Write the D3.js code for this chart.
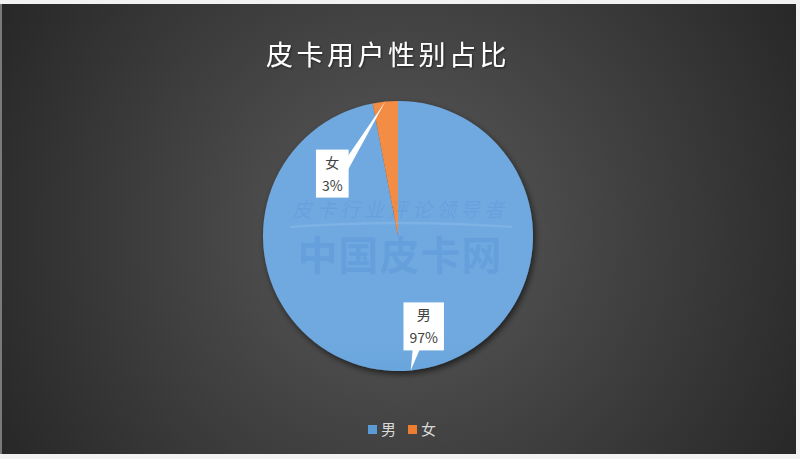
<!DOCTYPE html>
<html>
<head>
<meta charset="utf-8">
<script src="https://cdn.jsdelivr.net/npm/d3@7"></script>
<style>
  html, body { margin: 0; padding: 0; background: #f2f2f2; }
  svg { display: block; }
  text { font-family: "Noto Sans CJK SC", "Noto Sans", sans-serif; }
</style>
</head>
<body>
<svg id="chart" width="800" height="459"></svg>
<script>
// chart data
const title = '皮卡用户性别占比';
const categories = ['男', '女'];
const values = [97, 3];
const valueLabels = ['97%', '3%'];
const colors = ['#5B9BD5', '#ED7D31'];
const darkColors = ['#4785c6', '#d96a1f'];
const lightColors = ['#6fa9df', '#f38c45'];

// watermark text
const markTop = '皮卡行业评论领导者';
const markMain = '中国皮卡网';

const W = 800, H = 459;
const cx = 398, cy = 236, r = 135;

const svg = d3.select('#chart');
const defs = svg.append('defs');

// background gradient
const bg = defs.append('radialGradient')
    .attr('id', 'bg')
    .attr('gradientUnits', 'userSpaceOnUse')
    .attr('cx', 400).attr('cy', 230).attr('r', 470);
bg.append('stop').attr('offset', '0%').attr('stop-color', '#5a5a5a');
bg.append('stop').attr('offset', '100%').attr('stop-color', '#262626');

// slice gradients
colors.forEach((c, i) => {
    const g = defs.append('linearGradient')
        .attr('id', 'slice' + i)
        .attr('gradientUnits', 'userSpaceOnUse')
        .attr('x1', 0).attr('y1', cy - r)
        .attr('x2', 0).attr('y2', cy + r);
    g.append('stop').attr('offset', '0%').attr('stop-color', lightColors[i]);
    g.append('stop').attr('offset', '50%').attr('stop-color', c);
    g.append('stop').attr('offset', '100%').attr('stop-color', darkColors[i]);
});

const shadow = defs.append('filter')
    .attr('id', 'shadow')
    .attr('x', '-20%').attr('y', '-20%')
    .attr('width', '140%').attr('height', '140%');
shadow.append('feDropShadow')
    .attr('dx', 2).attr('dy', 3)
    .attr('stdDeviation', 3)
    .attr('flood-color', '#000')
    .attr('flood-opacity', 0.6);

const titleShadow = defs.append('filter').attr('id', 'tshadow');
titleShadow.append('feDropShadow')
    .attr('dx', 1).attr('dy', 1)
    .attr('stdDeviation', 1)
    .attr('flood-color', '#000')
    .attr('flood-opacity', 0.5);

// frame
svg.append('rect').attr('width', W).attr('height', H).attr('fill', '#f2f2f2');
svg.append('rect').attr('x', 0).attr('y', 4).attr('width', 2).attr('height', 450).attr('fill', '#7a7a7a');
svg.append('rect')
    .attr('x', 2).attr('y', 4)
    .attr('width', 794).attr('height', 450)
    .attr('fill', 'url(#bg)');

// title
svg.append('text')
    .attr('x', 388)
    .attr('y', 65)
    .attr('text-anchor', 'middle')
    .attr('fill', '#ffffff')
    .attr('filter', 'url(#tshadow)')
    .style('font-size', '27px')
    .style('letter-spacing', '3.5px')
    .text(title);

// pie
const data = categories.map((c, i) => ({ name: c, value: values[i], label: valueLabels[i], i: i }));

const pie = d3.pie()
    .sort(null)
    .value(d => d.value);

const arc = d3.arc()
    .innerRadius(0)
    .outerRadius(r);

const arcs = pie(data);

const pieG = svg.append('g')
    .attr('transform', `translate(${cx},${cy})`);

pieG.append('g')
    .attr('filter', 'url(#shadow)')
    .selectAll('path')
    .data(arcs)
    .enter()
    .append('path')
    .attr('d', arc)
    .attr('fill', d => `url(#slice${d.data.i})`);

// watermark
const wm = svg.append('g').attr('fill', '#2f78d8');
wm.append('text')
    .attr('x', 400).attr('y', 217)
    .attr('text-anchor', 'middle')
    .attr('opacity', 0.14)
    .style('font-size', '20px')
    .style('font-style', 'italic')
    .style('letter-spacing', '4px')
    .text(markTop);
wm.append('path')
    .attr('d', 'M290,227 Q400,219 512,227')
    .attr('fill', 'none')
    .attr('stroke', '#9cc8f2')
    .attr('stroke-width', 2.5)
    .attr('opacity', 0.3);
wm.append('text')
    .attr('x', 400).attr('y', 270)
    .attr('text-anchor', 'middle')
    .attr('opacity', 0.16)
    .style('font-size', '40px')
    .style('font-weight', 'bold')
    .style('letter-spacing', '1px')
    .text(markMain);

// data callouts
const calloutLayout = [
    { dx: 13, dy: -44, side: 'bottom', b0: -11, b1: -4 },
    { dx: -53, dy: 72, side: 'right', b0: -17, b1: -3 }
];

arcs.forEach((d, k) => {
    const lay = calloutLayout[k];
    const mid = (d.startAngle + d.endAngle) / 2;
    const tipX = cx + r * Math.sin(mid);
    const tipY = cy - r * Math.cos(mid);
    const bx = tipX + lay.dx, by = tipY + lay.dy;

    const g = svg.append('g');
    const t1 = g.append('text')
        .attr('x', bx).attr('y', by - 6)
        .attr('text-anchor', 'middle')
        .attr('fill', '#404040')
        .style('font-size', '14px')
        .text(d.data.name);
    const t2 = g.append('text')
        .attr('x', bx).attr('y', by + 17)
        .attr('text-anchor', 'middle')
        .attr('fill', '#404040')
        .style('font-size', '14px')
        .text(d.data.label);

    const tw = Math.max(t1.node().getComputedTextLength(), t2.node().getComputedTextLength());
    const bw = tw + 12, bh = 48;
    const x0 = bx - bw / 2, y0 = by - bh / 2;

    let pts;
    if (lay.side === 'bottom') {
        pts = [[bx + lay.b0, y0 + bh - 1], [tipX, tipY], [bx + lay.b1, y0 + bh - 1]];
    } else {
        pts = [[x0 + bw - 1, by + lay.b0], [tipX, tipY], [x0 + bw - 1, by + lay.b1]];
    }

    g.insert('polygon', 'text')
        .attr('points', pts.map(p => p.join(',')).join(' '))
        .attr('fill', '#ffffff');
    g.insert('rect', 'text')
        .attr('x', x0).attr('y', y0)
        .attr('width', bw).attr('height', bh)
        .attr('fill', '#ffffff');
});

// legend
const legend = svg.append('g');
let lx = 368;
categories.forEach((c, i) => {
    legend.append('rect')
        .attr('x', lx).attr('y', 425)
        .attr('width', 9).attr('height', 9)
        .attr('fill', colors[i]);
    const t = legend.append('text')
        .attr('x', lx + 13).attr('y', 435)
        .attr('fill', '#d9d9d9')
        .style('font-size', '15px')
        .text(c);
    lx += 13 + t.node().getComputedTextLength() + 12;
});
</script>
</body>
</html>
